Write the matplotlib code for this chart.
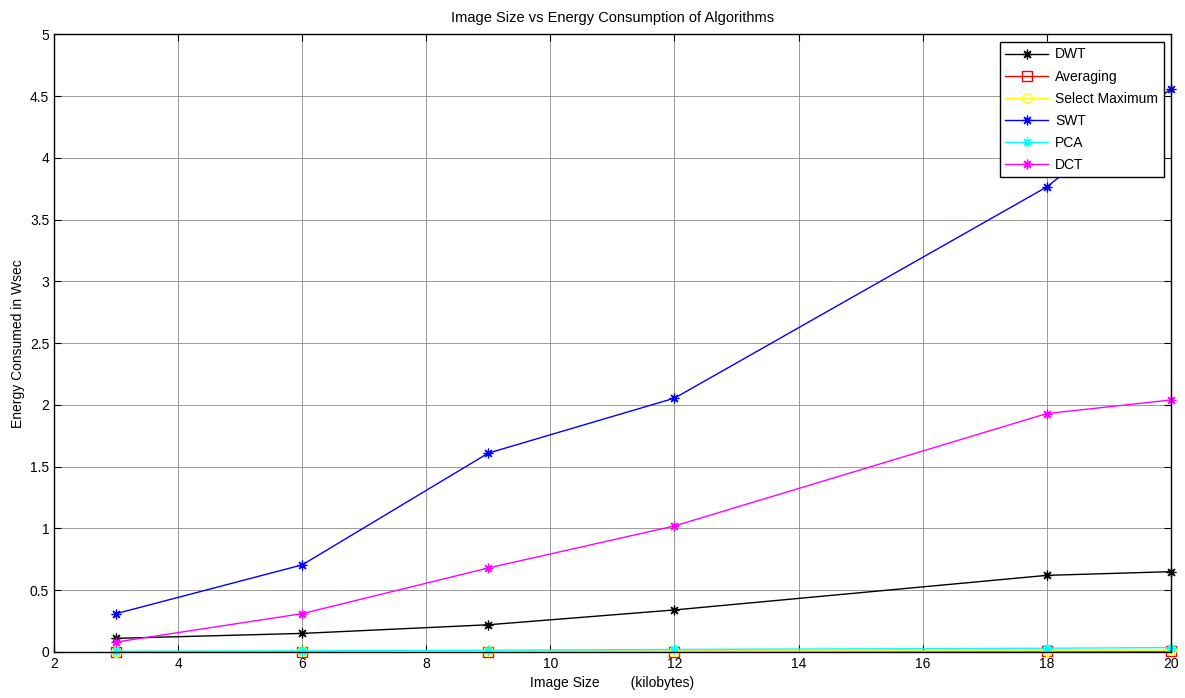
import matplotlib
matplotlib.use('Agg')
import matplotlib.pyplot as plt
from matplotlib import rc

rc('font', family=['Liberation Sans', 'DejaVu Sans'], size=10)

image_size = [3, 6, 9, 12, 18, 20]

dwt = [0.11, 0.15, 0.22, 0.34, 0.62, 0.65]
averaging = [0.002, 0.002, 0.003, 0.003, 0.004, 0.005]
select_max = [0.003, 0.004, 0.005, 0.006, 0.009, 0.012]
swt = [0.31, 0.705, 1.61, 2.055, 3.765, 4.56]
pca = [0.005, 0.008, 0.014, 0.02, 0.03, 0.035]
dct = [0.08, 0.31, 0.68, 1.02, 1.93, 2.04]

series = [
    ('DWT', dwt, 'k', 'ast'),
    ('Averaging', averaging, 'r', 's'),
    ('Select Maximum', select_max, 'yellow', 'o'),
    ('SWT', swt, 'b', 'ast'),
    ('PCA', pca, 'cyan', 'ast'),
    ('DCT', dct, 'magenta', 'ast'),
]


def graph():
    fig = plt.figure(figsize=(11.85, 6.98), dpi=100)
    ax = fig.add_axes([0.0456, 0.066, 0.9424, 0.8846])
    for name, vals, col, mk in series:
        if mk == 'ast':
            ax.plot(image_size, vals, color=col, marker=(8, 2, 0), markersize=7,
                    markeredgewidth=0.9, linewidth=1, label=name, clip_on=False)
        else:
            ax.plot(image_size, vals, color=col, marker=mk, markersize=7,
                    markerfacecolor='none', markeredgewidth=1, linewidth=1,
                    label=name, clip_on=False)
    ax.set_xlim(2, 20)
    ax.set_ylim(0, 5)
    ax.set_xticks(range(2, 21, 2))
    ax.set_yticks([0, 0.5, 1, 1.5, 2, 2.5, 3, 3.5, 4, 4.5, 5])
    ax.set_yticklabels(['0', '0.5', '1', '1.5', '2', '2.5', '3', '3.5', '4', '4.5', '5'])
    ax.grid(True, color='#8c8c8c', linewidth=0.6, linestyle='-')
    ax.tick_params(direction='in', length=5, top=True, right=True, labelsize=10)
    for axis in ['top', 'bottom', 'left', 'right']:
        ax.spines[axis].set_linewidth(1)
    ax.set_title('Image Size vs Energy Consumption of Algorithms', fontsize=10.5, pad=9)
    ax.set_xlabel('Image Size        (kilobytes)', fontsize=10, labelpad=4)
    ax.set_ylabel('Energy Consumed in Wsec', fontsize=10)
    ax.yaxis.set_label_coords(-0.026, 0.5)
    leg = ax.legend(loc='upper right', bbox_to_anchor=(0.9937, 0.988), fancybox=False,
                    edgecolor='k', framealpha=1, handlelength=3.1, fontsize=10,
                    borderpad=0.4, labelspacing=0.58, handletextpad=0.5,
                    borderaxespad=0)
    leg.get_frame().set_linewidth(1)
    plt.savefig('out.png', dpi=100)


if __name__ == '__main__':
    graph()
